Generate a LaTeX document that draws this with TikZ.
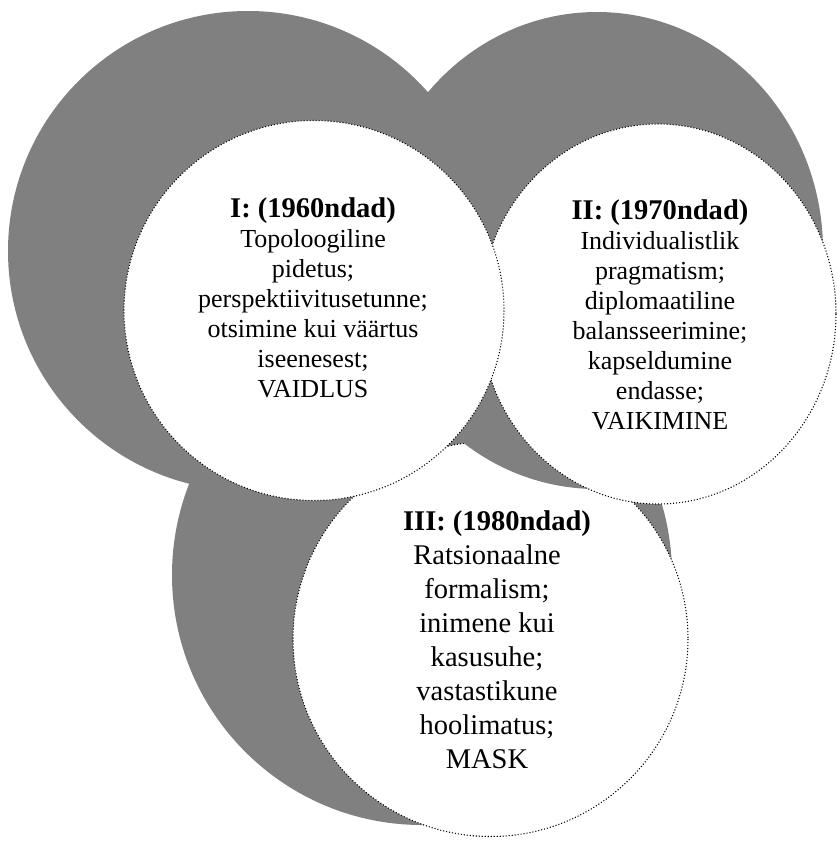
\documentclass[tikz,border=0pt]{standalone}
\usepackage{fontspec}
\setmainfont{Liberation Serif}
\definecolor{shade}{RGB}{128,128,128}
\begin{document}
\begin{tikzpicture}[x=0.75pt,y=-0.75pt,
  shadowdisc/.style={fill=shade,draw=none},
  disc/.style={fill=white,draw=black,line width=0.8pt,dash pattern=on 0.8pt off 1.45pt},
  lbl/.style={align=center,inner sep=0pt,font=\fontsize{19.5}{22.5}\selectfont},
  lblbig/.style={align=center,inner sep=0pt,font=\fontsize{21.4}{25.5}\selectfont}]
\useasboundingbox (0,0) rectangle (836,843);
% circle III
\fill[shadowdisc] (422,575) circle [radius=250];
\draw[disc] (490.5,639) circle [radius=197.5];
% circle II
\fill[shadowdisc] (597,250.5) ellipse [x radius=226,y radius=238.5];
\draw[disc] (658,314) ellipse [x radius=178,y radius=190];
% circle I
\fill[shadowdisc] (248,251) circle [radius=240];
\draw[disc] (314,310.5) circle [radius=190];
% texts
\node[lbl] (t1) at (313,297.5) {{\fontsize{21.4}{22.5}\selectfont\bfseries I: (1960ndad)}\\Topoloogiline\\pidetus;\\perspektiivitusetunne;\\otsimine kui väärtus\\iseenesest;\\VAIDLUS};
\node[lbl] (t2) at (660,315) {{\fontsize{21.4}{22.5}\selectfont\bfseries II: (1970ndad)}\\Individualistlik\\pragmatism;\\diplomaatiline\\balansseerimine;\\kapseldumine\\endasse;\\VAIKIMINE};
\node[lblbig] (t3) at (487,639.5) {{\bfseries\hspace*{15pt}III: (1980ndad)}\\Ratsionaalne\\formalism;\\inimene kui\\kasusuhe;\\vastastikune\\hoolimatus;\\MASK};
\end{tikzpicture}
\end{document}
